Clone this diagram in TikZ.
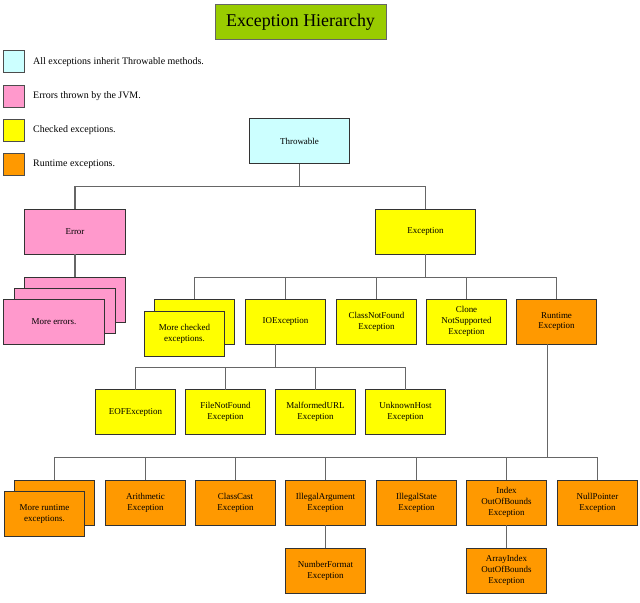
\documentclass[tikz,border=0pt]{standalone}
\usepackage{fontspec}
\setmainfont{Liberation Serif}
\definecolor{cthr}{HTML}{CCFFFF}
\definecolor{cerr}{HTML}{FF99CC}
\definecolor{cchk}{HTML}{FFFF00}
\definecolor{crt}{HTML}{FF9900}
\definecolor{ctitle}{HTML}{99CC00}
\definecolor{cline}{HTML}{666666}
\tikzset{
  box/.style={draw=black!80, line width=1bp, inner sep=0pt, outer sep=0pt,
    minimum width=80bp, minimum height=45bp, align=center,
    font=\fontsize{9}{11}\selectfont},
  wide/.style={box, minimum width=100bp},
  thrb/.style={wide, fill=cthr},
  errb/.style={wide, fill=cerr},
  chkb/.style={box, fill=cchk},
  rtb/.style={box, fill=crt},
  legsq/.style={draw=black!70, line width=1bp, minimum width=20bp, minimum height=22bp, inner sep=0pt},
  legtx/.style={anchor=west, inner sep=0pt, font=\fontsize{10}{12}\selectfont},
  conn/.style={draw=cline, line width=1.5bp},
}
\begin{document}
\begin{tikzpicture}[x=1bp,y=-1bp]
\useasboundingbox[fill=white] (0,0) rectangle (640,603);
% title
\node[draw=black!60, line width=1bp, fill=ctitle, minimum width=171bp, minimum height=35bp,
  inner sep=0pt, font=\fontsize{18}{20}\selectfont] (title) at (300.5,22.5) {Exception Hierarchy};
% legend
\node[legsq, fill=cthr] (l1) at (14,62) {};
\node[legsq, fill=cerr] (l2) at (14,96.5) {};
\node[legsq, fill=cchk] (l3) at (14,130.5) {};
\node[legsq, fill=crt] (l4) at (14,164.5) {};
\node[legtx] (t1) at (33,62) {All exceptions inherit Throwable methods.};
\node[legtx] (t2) at (33,96.5) {Errors thrown by the JVM.};
\node[legtx] (t3) at (33,130.5) {Checked exceptions.};
\node[legtx] (t4) at (33,164.5) {Runtime exceptions.};
% bar levels
\coordinate (b1) at (0,186.5);
\coordinate (b2) at (0,277.5);
\coordinate (b3) at (0,367.5);
\coordinate (b4) at (0,457.5);
% level 0/1
\node[thrb] (thr) at (299.5,141) {Throwable};
\node[errb] (err) at (75,231.5) {Error};
\node[wide, fill=cchk] (exc) at (425.5,231.5) {Exception};
% more errors stack
\node[errb] (me3) at (75,299.5) {};
\node[errb] (me2) at (65,310.5) {};
\node[errb] (me1) at (54,321.5) {More errors.};
% level 2
\node[chkb] (mc2) at (194.5,321.5) {};
\node[chkb] (mc1) at (184.5,333.5) {More checked\\exceptions.};
\node[chkb] (io) at (285.5,321.5) {IOException};
\node[chkb] (cnf) at (376.5,321.5) {ClassNotFound\\Exception};
\node[chkb] (cns) at (466.5,321.5) {Clone\\NotSupported\\Exception};
\node[rtb] (rt) at (556.5,321.5) {Runtime\\Exception};
% IO children
\node[chkb] (eof) at (135.5,412) {EOFException};
\node[chkb] (fnf) at (225.5,412) {FileNotFound\\Exception};
\node[chkb] (mal) at (315.5,412) {MalformedURL\\Exception};
\node[chkb] (uh) at (405.5,412) {UnknownHost\\Exception};
% runtime children
\node[rtb] (mr2) at (54.5,502.5) {};
\node[rtb] (mr1) at (44.5,514) {More runtime\\exceptions.};
\node[rtb] (ar) at (145.5,502.5) {Arithmetic\\Exception};
\node[rtb] (cc) at (235.5,502.5) {ClassCast\\Exception};
\node[rtb] (ia) at (325.5,502.5) {IllegalArgument\\Exception};
\node[rtb] (is) at (416.5,502.5) {IllegalState\\Exception};
\node[rtb] (iob) at (506.5,502.5) {Index\\OutOfBounds\\Exception};
\node[rtb] (np) at (597.5,502.5) {NullPointer\\Exception};
\node[rtb] (nf) at (325.5,570.5) {NumberFormat\\Exception};
\node[rtb] (aiob) at (506.5,570.5) {ArrayIndex\\OutOfBounds\\Exception};
% connectors
\draw[conn] (thr.south) |- (err.north |- b1) -- (err.north);
\draw[conn] (thr.south) |- (exc.north |- b1) -- (exc.north);
\draw[conn] (err.south) -- (me3.north);
\draw[conn] (exc.south) |- (mc2.north |- b2) -- (mc2.north);
\draw[conn] (exc.south) |- (rt.north |- b2) -- (rt.north);
\draw[conn] (io.north) -- (io.north |- b2);
\draw[conn] (cnf.north) -- (cnf.north |- b2);
\draw[conn] (cns.north) -- (cns.north |- b2);
\draw[conn] ([xshift=-10bp]io.south) |- (eof.north |- b3) -- (eof.north);
\draw[conn] ([xshift=-10bp]io.south) |- (uh.north |- b3) -- (uh.north);
\draw[conn] (fnf.north) -- (fnf.north |- b3);
\draw[conn] (mal.north) -- (mal.north |- b3);
\draw[conn] ([xshift=-9bp]rt.south) |- (mr2.north |- b4) -- (mr2.north);
\draw[conn] ([xshift=-9bp]rt.south) |- (np.north |- b4) -- (np.north);
\draw[conn] (ar.north) -- (ar.north |- b4);
\draw[conn] (cc.north) -- (cc.north |- b4);
\draw[conn] (ia.north) -- (ia.north |- b4);
\draw[conn] (is.north) -- (is.north |- b4);
\draw[conn] (iob.north) -- (iob.north |- b4);
\draw[conn] (ia.south) -- (nf.north);
\draw[conn] (iob.south) -- (aiob.north);
\end{tikzpicture}
\end{document}
